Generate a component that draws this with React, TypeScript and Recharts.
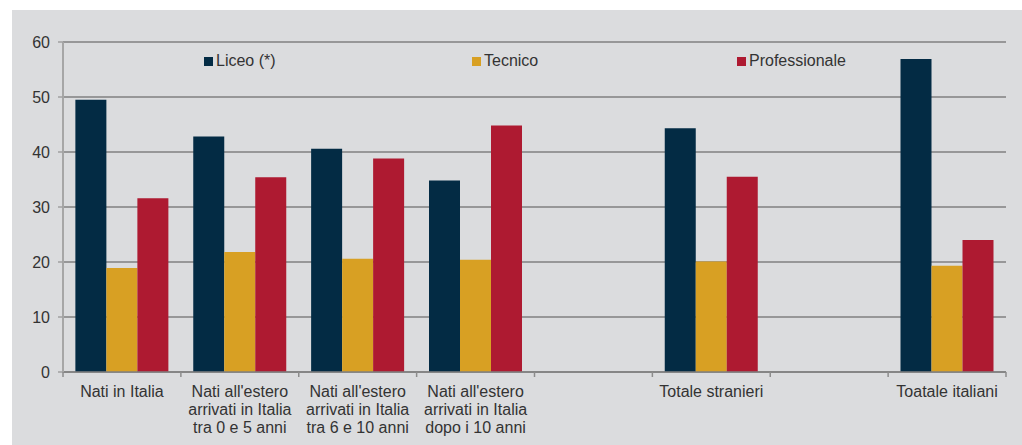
import React from "react";
import { BarChart, Bar, XAxis, YAxis, CartesianGrid, Legend } from "recharts";

const tickLabels: string[][] = [
  ["Nati in Italia"],
  ["Nati all'estero", "arrivati in Italia", "tra 0 e 5 anni"],
  ["Nati all'estero", "arrivati in Italia", "tra 6 e 10 anni"],
  ["Nati all'estero", "arrivati in Italia", "dopo i 10 anni"],
  [],
  ["Totale stranieri"],
  [],
  ["Toatale italiani"],
];

const categories = tickLabels.map((l, i) => (l.length ? l.join(" ") : `vuoto${i}`));

const liceo = [49.5, 42.8, 40.6, 34.8, null, 44.3, null, 56.9];
const tecnico = [18.9, 21.8, 20.6, 20.4, null, 20.1, null, 19.3];
const professionale = [31.6, 35.4, 38.8, 44.8, null, 35.5, null, 24.0];

const yTicks = [0, 10, 20, 30, 40, 50, 60];

const seriesNames = ["Liceo (*)", "Tecnico", "Professionale"];
const colors = ["#032b44", "#d8a023", "#ae1a31"];

const data = categories.map((c, i) => ({
  name: c,
  liceo: liceo[i],
  tecnico: tecnico[i],
  professionale: professionale[i],
}));

const FONT = "'Liberation Sans', Arial, sans-serif";
const TEXT = "#333333";

const XTick = (props: any) => {
  const { x, y, payload, index } = props;
  const lines = tickLabels[payload.index ?? index] || [];
  const off = payload.offset ?? 59;
  const isLast = (payload.index ?? index) === categories.length - 1;
  return (
    <g>
      <line x1={x - off} x2={x - off} y1={y - 8} y2={y - 3} stroke="#8c8c8c" strokeWidth={1.5} />
      {isLast && (
        <line x1={x + off} x2={x + off} y1={y - 8} y2={y - 3} stroke="#8c8c8c" strokeWidth={1.5} />
      )}
      <text x={x} y={y + 17} textAnchor="middle" fill={TEXT} fontSize={16} fontFamily={FONT}>
        {lines.map((l, i) => (
          <tspan key={i} x={x} dy={i === 0 ? 0 : 18}>
            {l}
          </tspan>
        ))}
      </text>
    </g>
  );
};

const legendLefts = [192, 460, 725];

const LegendContent = () => (
  <div style={{ position: "relative", width: 1010, height: 18 }}>
    {seriesNames.map((n, i) => (
      <div
        key={n}
        style={{
          position: "absolute",
          left: legendLefts[i],
          top: 0,
          height: 18,
          display: "flex",
          alignItems: "center",
          fontFamily: FONT,
          fontSize: 16,
          color: TEXT,
          whiteSpace: "nowrap",
        }}
      >
        <span style={{ display: "inline-block", width: 9, height: 9, background: colors[i], marginRight: 3 }} />
        <span>{n}</span>
      </div>
    ))}
  </div>
);

export default function App() {
  return (
    <div
      style={{
        position: "absolute",
        left: 12,
        top: 10,
        width: 1010,
        height: 435,
        background: "#dbdcde",
      }}
    >
      <BarChart
        width={1010}
        height={435}
        data={data}
        margin={{ top: 32, right: 16, left: 0, bottom: 0 }}
        barGap={0}
        barCategoryGap="10.5%"
      >
        <CartesianGrid vertical={false} stroke="#808080" strokeWidth={1.5} />
        <XAxis
          dataKey="name"
          height={73}
          interval={0}
          tick={<XTick />}
          tickLine={false}
          axisLine={{ stroke: "#808080", strokeWidth: 1.5 }}
        />
        <YAxis
          width={51}
          domain={[0, 60]}
          ticks={yTicks}
          interval={0}
          tickSize={5}
          tickMargin={8}
          tick={{ fill: TEXT, fontSize: 16, fontFamily: FONT }}
          tickLine={{ stroke: "#a0a0a0", strokeWidth: 1.5 }}
          axisLine={{ stroke: "#a6a6a6", strokeWidth: 2 }}
        />
        <Legend
          layout="vertical"
          align="center"
          verticalAlign="middle"
          content={<LegendContent />}
          wrapperStyle={{ top: 42, left: 0, width: 1010, height: 18 }}
        />
        <Bar dataKey="liceo" name={seriesNames[0]} fill={colors[0]} isAnimationActive={false} />
        <Bar dataKey="tecnico" name={seriesNames[1]} fill={colors[1]} isAnimationActive={false} />
        <Bar dataKey="professionale" name={seriesNames[2]} fill={colors[2]} isAnimationActive={false} />
      </BarChart>
    </div>
  );
}
